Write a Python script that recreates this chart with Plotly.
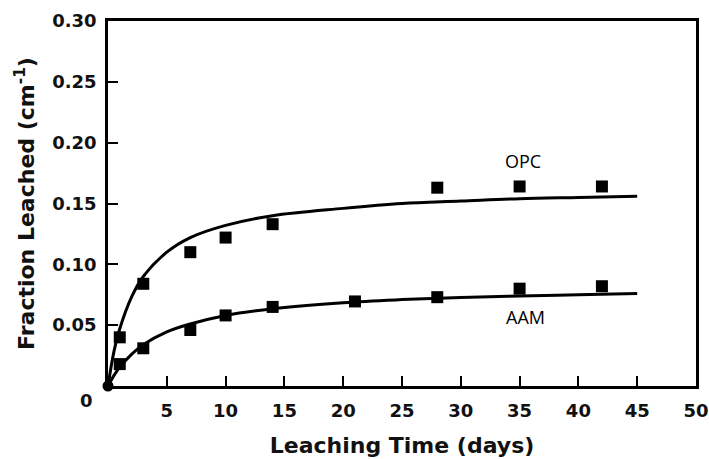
import plotly.graph_objects as go

# Measured leaching data (days, fraction leached in cm^-1)
opc_days = [0, 1, 3, 7, 10, 14, 28, 35, 42]
opc_frac = [0, 0.040, 0.084, 0.110, 0.122, 0.133, 0.163, 0.164, 0.164]

aam_days = [1, 3, 7, 10, 14, 21, 28, 35, 42]
aam_frac = [0.018, 0.031, 0.046, 0.058, 0.065, 0.0695, 0.073, 0.080, 0.082]

# Fitted trend curves
fit_days = [0, 0.5, 1, 2, 3, 5, 7, 10, 14, 20, 25, 30, 35, 40, 45]
opc_fit = [0, 0.028, 0.047, 0.073, 0.090, 0.110, 0.122, 0.132, 0.140,
           0.146, 0.150, 0.152, 0.154, 0.155, 0.156]
aam_fit = [0, 0.0085, 0.0155, 0.026, 0.034, 0.0445, 0.051, 0.058, 0.0635,
           0.0685, 0.071, 0.0728, 0.074, 0.075, 0.076]

x_ticks = [5, 10, 15, 20, 25, 30, 35, 40, 45, 50]
y_ticks = [0.05, 0.10, 0.15, 0.20, 0.25, 0.30]
y_tick_text = ["0.05", "0.10", "0.15", "0.20", "0.25", "0.30"]

series_labels = {"OPC": (35.3, 0.185), "AAM": (35.5, 0.057)}

fig = go.Figure()

for xs, ys in [(fit_days, opc_fit), (fit_days, aam_fit)]:
    fig.add_trace(go.Scatter(x=xs, y=ys, mode="lines", line_shape="spline",
                             line=dict(color="black", width=3),
                             showlegend=False, hoverinfo="skip"))

fig.add_trace(go.Scatter(x=opc_days[1:], y=opc_frac[1:], mode="markers",
                         marker=dict(symbol="square", size=12, color="black"),
                         showlegend=False))
fig.add_trace(go.Scatter(x=aam_days, y=aam_frac, mode="markers",
                         marker=dict(symbol="square", size=12, color="black"),
                         showlegend=False))
fig.add_trace(go.Scatter(x=opc_days[:1], y=opc_frac[:1], mode="markers",
                         marker=dict(symbol="circle", size=11, color="black"),
                         cliponaxis=False, showlegend=False))

for name, (lx, ly) in series_labels.items():
    fig.add_annotation(x=lx, y=ly, text=name, showarrow=False,
                       font=dict(family="Open Sans, Noto Sans, sans-serif",
                                 size=18, color="black"))

tick_font = dict(family="DejaVu Sans", size=18, color="#111", weight="bold")
title_font = dict(family="DejaVu Sans", size=22, color="#111", weight="bold")

# shared origin label
fig.add_annotation(x=0, y=0, text="0", showarrow=False, xanchor="right",
                   yanchor="top", xshift=-13, yshift=-2, font=tick_font)

fig.update_xaxes(range=[0, 50], tickvals=x_ticks, ticks="inside", ticklen=10,
                 tickwidth=1.5, tickcolor="black", showline=True,
                 linewidth=2.5, linecolor="black", mirror=True,
                 showgrid=False, zeroline=False, tickfont=tick_font,
                 ticklabelstandoff=7, automargin=False,
                 title=dict(text="Leaching Time (days)", font=title_font,
                            standoff=18))
fig.update_yaxes(range=[0, 0.30], tickvals=y_ticks, ticktext=y_tick_text,
                 ticks="inside", ticklen=10, tickwidth=1.5,
                 tickcolor="black", showline=True, linewidth=2.5,
                 linecolor="black", mirror=True, showgrid=False,
                 zeroline=False, tickfont=tick_font, ticklabelstandoff=5,
                 automargin=False,
                 title=dict(text="Fraction Leached (cm<sup>-1</sup>)",
                            font=title_font, standoff=12))

fig.update_layout(width=709, height=459,
                  margin=dict(l=108, r=13, t=21, b=73),
                  plot_bgcolor="white", paper_bgcolor="white")

fig.write_html("out.html")
